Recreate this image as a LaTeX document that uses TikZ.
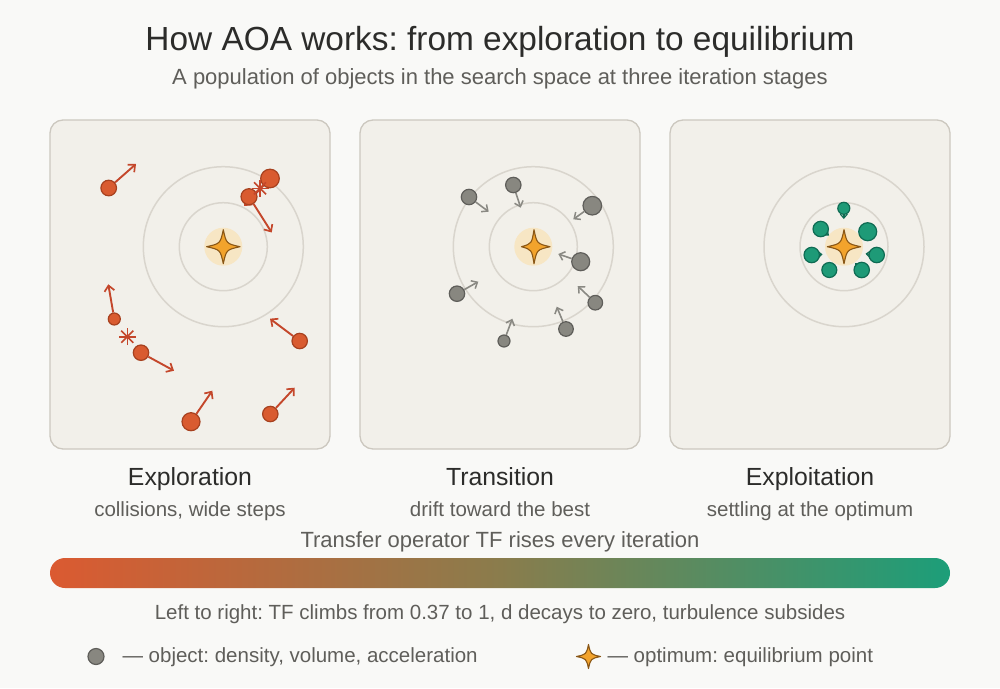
\documentclass[tikz,border=0pt]{standalone}
\usepackage{fontspec}
\setmainfont{Liberation Sans}
\usetikzlibrary{arrows.meta,calc}
\frenchspacing
\definecolor{bgc}{HTML}{F9F9F7}
\definecolor{panelfill}{HTML}{F2F0EA}
\definecolor{panelline}{HTML}{CCC8BF}
\definecolor{ringc}{HTML}{D9D5CD}
\definecolor{glowc}{HTML}{F7E6C4}
\definecolor{starfill}{HTML}{F2A32C}
\definecolor{starline}{HTML}{8A5716}
\definecolor{redfill}{HTML}{D95B30}
\definecolor{redline}{HTML}{A7411F}
\definecolor{redarr}{HTML}{C4472B}
\definecolor{grayfill}{HTML}{888780}
\definecolor{grayline}{HTML}{5F5E5A}
\definecolor{grayarr}{HTML}{8A8983}
\definecolor{greenfill}{HTML}{1E9A77}
\definecolor{greenline}{HTML}{0F6B53}
\definecolor{titlec}{HTML}{2C2C2A}
\definecolor{subc}{HTML}{5F5E5A}
\definecolor{barl}{HTML}{DB5A31}
\definecolor{barm}{HTML}{8A7C4C}
\definecolor{barr}{HTML}{1C9E79}
\tikzset{
  panel/.style={draw=panelline, fill=panelfill, line width=1.3pt, rounded corners=13pt},
  ring/.style={draw=ringc, line width=1.5pt},
  glow/.style={fill=glowc},
  starsty/.style={fill=starfill, draw=starline, line width=1.1pt, line join=round},
  robj/.style={circle, fill=redfill, draw=redline, line width=1.2pt, inner sep=0pt},
  gobj/.style={circle, fill=grayfill, draw=grayline, line width=1.2pt, inner sep=0pt},
  eobj/.style={circle, fill=greenfill, draw=greenline, line width=1.2pt, inner sep=0pt},
  rarr/.style={draw=redarr, line width=1.9pt, -{Straight Barb[length=5.5pt,width=10pt,line width=1.7pt]}},
  garr/.style={draw=grayarr, line width=1.6pt, -{Straight Barb[length=5pt,width=9pt,line width=1.5pt]}},
  earr/.style={draw=greenline, line width=1.4pt, -{Straight Barb[length=4pt,width=7pt,line width=1.2pt]}},
  boom/.style={draw=redarr, line width=1.6pt},
  ttl/.style={anchor=base, text=titlec, font=\fontsize{33.4}{38}\selectfont},
  sub/.style={anchor=base, text=subc, font=\fontsize{22}{26}\selectfont},
  lab/.style={anchor=base, text=titlec, font=\fontsize{24.8}{28}\selectfont},
  slab/.style={anchor=base, text=subc, font=\fontsize{20.5}{24}\selectfont},
}
% star: centre x, y, left arm, right arm, vertical arm
\newcommand{\optstar}[5]{%
  \path[starsty] (#1,#2-#5) .. controls (#1+0.18*#4,#2-0.18*#5) .. (#1+#4,#2)
     .. controls (#1+0.18*#4,#2+0.18*#5) .. (#1,#2+#5)
     .. controls (#1-0.18*#3,#2+0.18*#5) .. (#1-#3,#2)
     .. controls (#1-0.18*#3,#2-0.18*#5) .. cycle;}
\newcommand{\collide}[2]{%
  \foreach \a in {0,45,90,135}{\draw[boom] ($(#1,#2)+(\a:8.5)$) -- ($(#1,#2)+(\a+180:8.5)$);}}
\begin{document}
\begin{tikzpicture}[x=1pt,y=-1pt]
\useasboundingbox (0,0) rectangle (1000,688);
\fill[bgc] (0,0) rectangle (1000,688);

\node[ttl] (title) at (500,50) {How AOA works: from exploration to equilibrium};
\node[sub] (subtitle) at (500,84) {A population of objects in the search space at three iteration stages};

% panels
\foreach \px in {50,360,670}{
  \draw[panel] (\px,120) rectangle ++(280,329);
}
\foreach \cx/\nm in {223.3/c1,533.3/c2,844/c3}{
  \draw[ring] (\cx,246.7) circle (80);
  \draw[ring] (\cx,246.7) circle (44);
  \fill[glow] (\cx,246.7) circle (19);
  \coordinate (\nm) at (\cx,246.7);
}
\optstar{223.3}{246.7}{16.7}{16.7}{17}
\optstar{534}{246.7}{12.5}{16}{17}
\optstar{844}{246.7}{16.7}{16.7}{17}

% ---- panel 1: exploration
\coordinate (t2) at (244,206);
\draw[rarr] (270,178.5) -- (t2);
\node[robj, minimum size=15.6pt] (r1) at (108.7,188) {};
\node[robj, minimum size=18.6pt] (r2) at (270,178.5) {};
\node[robj, minimum size=16pt] (r3) at (249,196.7) {};
\node[robj, minimum size=12pt] (r4) at (114.3,319) {};
\node[robj, minimum size=15.4pt] (r5) at (141,352.7) {};
\node[robj, minimum size=15.4pt] (r6) at (299.7,341) {};
\node[robj, minimum size=18pt] (r7) at (191,421.7) {};
\node[robj, minimum size=15.4pt] (r8) at (270.3,414) {};
\coordinate (t1) at (136,164);
\coordinate (t3) at (271.7,232.5);
\coordinate (t4) at (108.3,284.3);
\coordinate (t5) at (174,370.7);
\coordinate (t6) at (270,318.7);
\coordinate (t7) at (212.3,390.7);
\coordinate (t8) at (294.7,387.7);
\draw[rarr] (r1) -- (t1);
\draw[rarr] (r3) -- (t3);
\draw[rarr] (r4) -- (t4);
\draw[rarr] (r5) -- (t5);
\draw[rarr] (r6) -- (t6);
\draw[rarr] (r7) -- (t7);
\draw[rarr] (r8) -- (t8);
\collide{260}{188.3}
\collide{127.3}{336.7}

% ---- panel 2: transition
\node[gobj, minimum size=15.4pt] (g1) at (469,197) {};
\node[gobj, minimum size=15.4pt] (g2) at (513.3,185) {};
\node[gobj, minimum size=18.6pt] (g3) at (592.3,205.7) {};
\node[gobj, minimum size=18pt] (g4) at (580.7,261.7) {};
\node[gobj, minimum size=14.6pt] (g5) at (595.3,302.7) {};
\node[gobj, minimum size=14.6pt] (g6) at (566,329) {};
\node[gobj, minimum size=12pt] (g7) at (504,341) {};
\node[gobj, minimum size=15.4pt] (g8) at (457,293.7) {};
\coordinate (u1) at (488.7,211.7);
\coordinate (u2) at (520.7,207.7);
\coordinate (u3) at (573.3,219.3);
\coordinate (u4) at (558.3,254);
\coordinate (u5) at (577.7,286);
\coordinate (u6) at (556.7,306.7);
\coordinate (u7) at (512.3,318.7);
\coordinate (u8) at (478.3,281.7);
\foreach \i in {1,...,8}{\draw[garr] (g\i) -- (u\i);}

% ---- panel 3: exploitation
\coordinate (v1) at (843.8,219);
\coordinate (v2) at (829,235.5);
\coordinate (v4) at (822.5,254.3);
\coordinate (v5) at (865.5,253.7);
\coordinate (v7) at (855,263);
\draw[earr] (843.8,210) -- (v1);
\draw[earr] (820.7,229) -- (v2);
\draw[earr] (811.7,255) -- (v4);
\draw[earr] (876.7,255) -- (v5);
\draw[earr] (861.7,270) -- (v7);
\node[eobj, minimum size=12pt] (e1) at (843.8,208.3) {};
\node[eobj, minimum size=15.4pt] (e2) at (820.7,229) {};
\node[eobj, minimum size=18pt] (e3) at (867.7,231.7) {};
\node[eobj, minimum size=15.4pt] (e4) at (811.7,255) {};
\node[eobj, minimum size=15.4pt] (e5) at (876.7,255) {};
\node[eobj, minimum size=15pt] (e6) at (829.3,270) {};
\node[eobj, minimum size=15.4pt] (e7) at (861.7,270) {};

% labels
\node[lab] (l1) at (190,485) {Exploration};
\node[slab] (s1) at (190,516) {collisions, wide steps};
\node[lab] (l2) at (500,485) {Transition};
\node[slab] (s2) at (500,516) {drift toward the best};
\node[lab] (l3) at (810,485) {Exploitation};
\node[slab] (s3) at (810,516) {settling at the optimum};

\node[sub] (tf) at (500,547) {Transfer operator TF rises every iteration};
\shade[left color=barl, right color=barr, middle color=barm, rounded corners=15pt] (50,558) rectangle (950,588);
\node[slab] (lr) at (500,619) {Left to right: TF climbs from 0.37 to 1, d decays to zero, turbulence subsides};

% legend
\node[gobj, minimum size=16pt] (legobj) at (96,656.5) {};
\node[slab, anchor=base west] (legtxt) at (119,662) {— object: density, volume, acceleration};
\optstar{588.5}{656.5}{12}{12}{12}
\coordinate (legstar) at (588.5,656.5);
\node[slab, anchor=base west] (legtxt2) at (604,662) {— optimum: equilibrium point};
\end{tikzpicture}
\end{document}
